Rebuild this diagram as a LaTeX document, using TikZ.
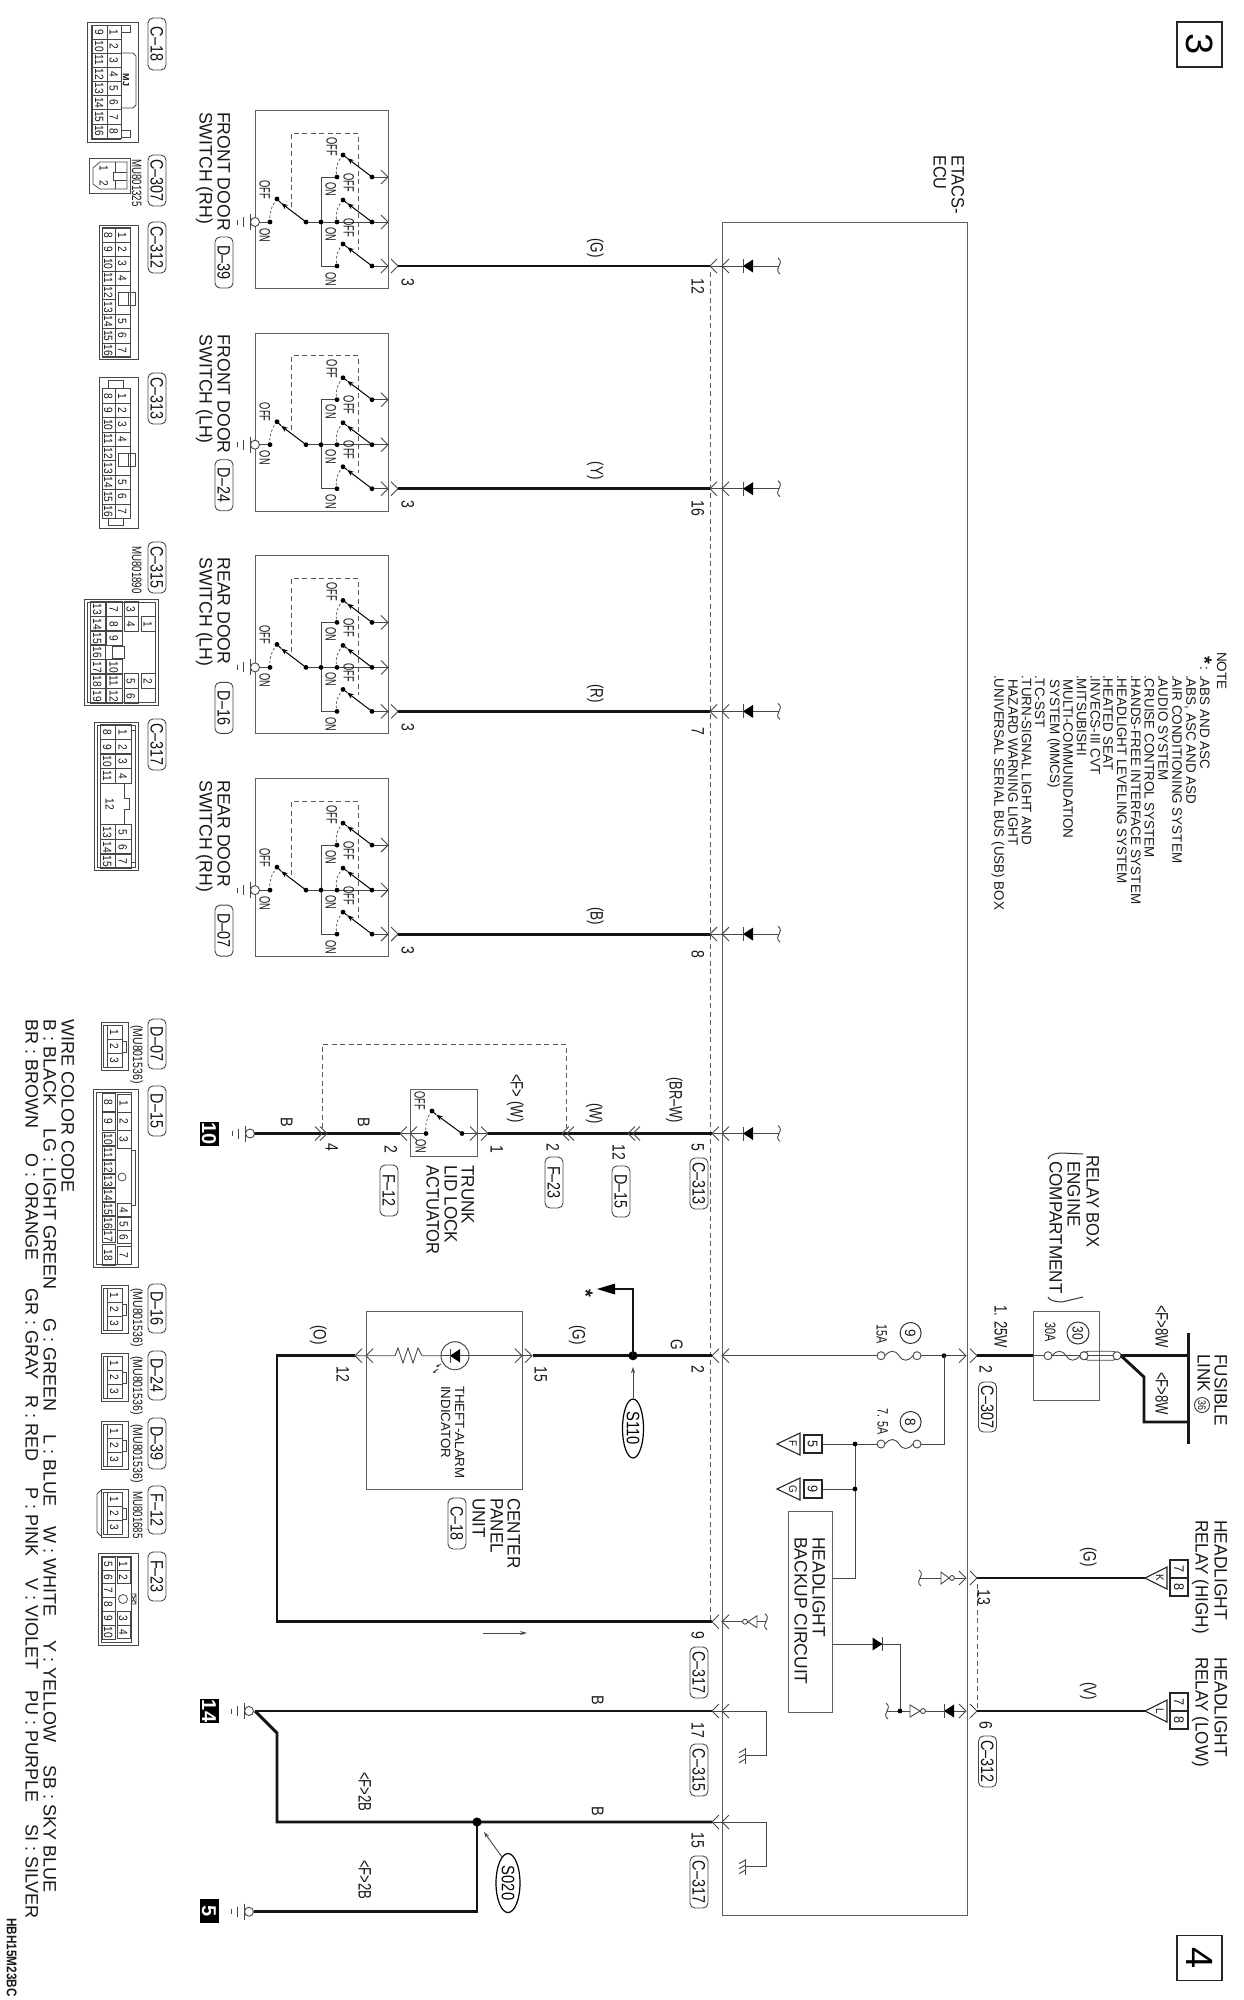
\documentclass[tikz,border=0pt]{standalone}
\usepackage{fontspec}
\setmainfont{Liberation Sans}
\usetikzlibrary{arrows.meta,calc,shapes.geometric}
\newcounter{nn}
\tikzset{
 thinw/.style={line width=.9pt,draw=black!72},
 heavyw/.style={line width=2.9pt,draw=black!92},
 boxl/.style={line width=1pt,draw=black!62},
 connl/.style={line width=.75pt,draw=black!72},
 dashl/.style={line width=.8pt,draw=black!65,dash pattern=on 5pt off 3.5pt},
 boxnode/.style={boxl,rectangle,inner sep=0pt,anchor=north west},
}
\newcommand\Tx[5]{\stepcounter{nn}\node[rotate=-90,anchor=west,inner sep=0pt,text height=#3pt*0.716,text depth=0pt,text=black!90,font=\fontsize{#3}{#3}\selectfont] (t\arabic{nn}) at ({#1},{#2}) {\scalebox{#4}[1]{#5}};}
\newcommand\Cx[5]{\stepcounter{nn}\node[rotate=-90,anchor=center,inner sep=0pt,text height=#3pt*0.716,text depth=0pt,text=black!90,font=\fontsize{#3}{#3}\selectfont] (t\arabic{nn}) at ({#1},{#2}) {\scalebox{#4}[1]{#5}};}
\newcommand\Px[4]{\stepcounter{nn}\node[rotate=-90,draw=black!72,line width=.9pt,rounded corners=5pt,inner sep=0pt,minimum height=18pt,minimum width={#3pt-#2pt},text height=13pt,text depth=0pt,text=black!92,font=\fontsize{18}{18}\selectfont] (p\arabic{nn}) at ({#1},{(#2+#3)/2}) {\scalebox{.8}[1]{#4}};}
\newcommand\Wx[2]{\draw[thinw] ({#1-7},{#2-7}) -- ({#1},{#2}) -- ({#1-7},{#2+7});}% tip right
\newcommand\Vx[2]{\draw[thinw] ({#1+7},{#2-7}) -- ({#1},{#2}) -- ({#1+7},{#2+7});}% tip left
\newcommand\Gx[2]{\draw[thinw,fill=white] (#1,#2) circle (4.5pt);
 \draw[thinw] ({#1-5},{#2-8}) -- ({#1-5},{#2+8}) ({#1-12},{#2-5}) -- ({#1-12},{#2+5}) ({#1-18},{#2-2.5}) -- ({#1-18},{#2+2.5});}
\newcommand\Sq[2]{\draw[thinw] ({#1-1},{#2-8}) .. controls ({#1+3},{#2-5}) and ({#1+1},{#2-2}) .. (#1,#2) .. controls ({#1-1},{#2+2}) and ({#1-3},{#2+5}) .. ({#1+1},{#2+8});}
\newcommand\DL[2]{\fill[black] (#1,#2) -- ({#1+10},{#2-6.5}) -- ({#1+10},{#2+6.5}) -- cycle; \draw[thinw] (#1,{#2-7}) -- (#1,{#2+7});}
\newcommand\DR[2]{\fill[black] (#1,#2) -- ({#1-10},{#2-6.5}) -- ({#1-10},{#2+6.5}) -- cycle; \draw[thinw] (#1,{#2-7}) -- (#1,{#2+7});}
\newcommand\Fu[3]{\draw[thinw] ({#1+4},#3) .. controls ({#1+9},{#3-6}) and ({#1+14},{#3-6}) .. ({(#1+#2)/2},#3) .. controls ({(#1+#2)/2+4},{#3+6}) and ({#2-9},{#3+6}) .. ({#2-4},#3);
 \draw[thinw,fill=white] (#1,#3) circle (4pt) (#2,#3) circle (4pt);}
\newcommand\Dt[2]{\fill[black] (#1,#2) circle (2.4pt);}
\newcommand\Hh[2]{\draw[thinw] (745,{#2-8}) -- (745,{#2+8}); \foreach \k in {-7,-2,3}{\draw[thinw] (746,{#2+\k}) -- (739,{#2+\k+4});}}
\newcommand\Inv[3]{\draw[thinw,fill=white] (#1,{#3-6}) -- (#1,{#3+6}) -- (#2,#3) -- cycle;}
\newcommand\Cel[5]{\draw[connl] (#1,{#3-#4/2}) rectangle (#2,{#3+#4/2}); \Cx{(#1+#2)/2}{#3}{12}{.85}{#5}}
\newcommand\Threepin[1]{\begin{scope}[shift={(0,#1)}]
 \draw[connl] (101,0) rectangle (128,48);
 \draw[connl] (103,3) -- (122,3) -- (122,45) -- (103,45) -- cycle;
 \draw[connl] (107,3) -- (107,45);
 \draw[connl] (122,19) -- (126,19) -- (126,30) -- (122,30);
 \Cel{107}{122}{10}{14}{1}\Cel{107}{122}{24}{14}{2}\Cel{107}{122}{38}{14}{3}
 \end{scope}}
\newcommand\Sixteen[1]{%
 \foreach \i/\n in {0/1,1/2,2/3,3/4,6/5,7/6,8/7}{\Cel{115}{130}{#1+\i*14.4}{14.4}{\n}}
 \foreach \i/\n in {0/8,1/9,2/10,3/11,4/12,5/13,6/14,7/15,8/16}{\Cel{102}{115}{#1+\i*14.4}{14.4}{\n}}
}
\newcommand\Dsw[8]{%
\begin{scope}[shift={(0,#1)}]
 \node[boxnode,minimum width=133pt,minimum height=178pt] (#2box) at (255,0) {};
 \draw[dashl] (291,97) -- (291,23) -- (358,23) -- (358,140);
 \draw[thinw] (337,67) -- (321,67) -- (321,156) -- (337,156);
 \draw[thinw] (255,112) -- (270,112);
 \draw[thinw] (306,112) -- (372,112) ;
 \foreach \dy in {67,112,156}{
  \draw[thinw] (372,\dy) -- (388,\dy);
  \Wx{388}{\dy}
  \draw[line width=1pt,draw=black,-{Stealth[length=7pt,width=5pt]}] (372,\dy) -- (347,\dy-19);
  \draw[line width=1pt,draw=black] (347,\dy-19) -- (343,\dy-22);
  \draw[line width=.7pt,draw=black!70,dash pattern=on 2.5pt off 2pt] (343,\dy-22) .. controls (337,\dy-15) and (335,\dy-8) .. (337,\dy);
  \Dt{372}{\dy}\Dt{343}{\dy-22}\Dt{337}{\dy}
 }
 \draw[line width=1pt,draw=black,-{Stealth[length=7pt,width=5pt]}] (306,112) -- (281,93);
 \draw[line width=1pt,draw=black] (281,93) -- (277,89);
 \draw[line width=.7pt,draw=black!70,dash pattern=on 2.5pt off 2pt] (277,89) .. controls (271,96) and (269,105) .. (270,112);
 \Dt{306}{112}\Dt{321}{112}\Dt{277}{89}\Dt{270}{112}
 \Gx{255}{112}
 \Tx{332}{27}{15}{.62}{OFF}\Tx{349}{63}{15}{.62}{OFF}\Tx{349}{108}{15}{.62}{OFF}
 \Tx{331}{72}{15}{.62}{ON}\Tx{331}{117}{15}{.62}{ON}\Tx{331}{162}{15}{.62}{ON}
 \Tx{265}{70}{15}{.62}{OFF}\Tx{265}{118}{15}{.62}{ON}
 \Px{224}{127}{178}{#3}
 \Tx{224}{2}{18}{.98}{#4}\Tx{206}{2}{18}{.98}{#5}
 \coordinate (#2a) at (398,156);
 \coordinate (#2b) at (710,156);
 \Wx{398}{156}\Vx{710}{156}\Vx{722}{156}
 \draw[heavyw] (#2a) -- (#2b);
 \draw[thinw] (#2b) -- (779,156); \DL{743}{156}\Sq{779}{156}
 \Cx{408}{172}{18}{.78}{3}
 \Cx{698}{176}{18}{.78}{#7}
 \Cx{597}{138}{18}{.75}{#6}
\end{scope}}
\begin{document}
\begin{tikzpicture}[x=1pt,y=-1pt]
\useasboundingbox (0,0) rectangle (1243,2000);
\fill[white] (0,0) rectangle (1243,2000);
% page boxes
\node[draw=black!85,line width=1.5pt,minimum size=45pt,inner sep=0pt,rotate=-90,font=\fontsize{38}{38}\selectfont] (pg3) at (1199.5,44.5) {3};
\node[draw=black!85,line width=1.5pt,minimum size=45pt,inner sep=0pt,rotate=-90,font=\fontsize{38}{38}\selectfont] (pg4) at (1199.5,1958) {4};
% ETACS
\node[boxnode,minimum width=245pt,minimum height=1693pt] (ecu) at (721.5,221.7) {};
\Tx{958}{155}{18}{.91}{ETACS-}\Tx{940}{155}{18}{.91}{ECU}
\draw[dashl] (710,272) -- (710,1620);
\draw[dashl] (977,1584) -- (977,1708);
% door switches
\Dsw{110}{sa}{D–39}{FRONT DOOR}{SWITCH (RH)}{(G)}{12}{}
\Dsw{332.7}{sb}{D–24}{FRONT DOOR}{SWITCH (LH)}{(Y)}{16}{}
\Dsw{555.4}{sc}{D–16}{REAR DOOR}{SWITCH (LH)}{(R)}{7}{}
\Dsw{778.1}{sd}{D–07}{REAR DOOR}{SWITCH (RH)}{(B)}{8}{}
% trunk
\node[boxnode,minimum width=67pt,minimum height=67pt] (tbox) at (410,1089) {};
\draw[dashl] (322,1128) -- (322,1044) -- (566,1044) -- (566,1128);
\coordinate (tg) at (250,1133.5); \coordinate (t2) at (400,1133.5); \coordinate (t1) at (488,1133.5); \coordinate (te) at (712,1133.5);
\draw[heavyw] (tg) -- (t2); \draw[heavyw] (t1) -- (te);
\draw[thinw] (t2) -- (426,1133.5); \draw[thinw] (462,1133.5) -- (t1);
\Vx{400}{1133.5}\Vx{410}{1133.5}\Wx{477}{1133.5}\Wx{488}{1133.5}
\Wx{322}{1133.5}\Wx{327}{1133.5}
\Vx{562}{1133.5}\Vx{567}{1133.5}\Vx{628}{1133.5}\Vx{633}{1133.5}\Vx{712}{1133.5}\Vx{722}{1133.5}
\draw[line width=1pt,-{Stealth[length=7pt,width=5pt]}] (462,1133.5) -- (436,1114.5);
\draw[line width=1pt] (436,1114.5) -- (432,1111);
\draw[line width=.7pt,draw=black!70,dash pattern=on 2.5pt off 2pt] (432,1111) .. controls (426,1118) and (425,1126) .. (426,1133.5);
\Dt{462}{1133.5}\Dt{432}{1111}\Dt{426}{1133.5}
\Gx{250}{1133.5}
\draw[thinw] (712,1133.5) -- (779,1133.5); \DL{743}{1133.5}\Sq{779}{1133.5}
\Tx{420}{1091}{15}{.62}{OFF}\Tx{421}{1139}{15}{.62}{ON}
\Tx{287}{1117}{17}{.85}{B}\Tx{364}{1117}{17}{.85}{B}
\Tx{517}{1074}{18}{.73}{<F> (W)}\Tx{596}{1103}{18}{.72}{(W)}\Tx{676}{1077}{18}{.72}{(BR–W)}
\Cx{332}{1147}{18}{.78}{4}\Cx{391}{1149}{18}{.78}{2}\Cx{497}{1149}{18}{.78}{1}\Cx{553}{1147}{18}{.78}{2}\Cx{619}{1152}{18}{.78}{12}\Cx{698}{1147}{18}{.78}{5}
\Px{554}{1157}{1208}{F–23}\Px{621}{1166}{1217}{D–15}\Px{699}{1158}{1209}{C–313}\Px{389}{1165}{1216}{F–12}
\Tx{468}{1165}{18}{.95}{TRUNK}\Tx{451}{1165}{18}{.95}{LID LOCK}\Tx{433}{1165}{18}{.92}{ACTUATOR}
% centre panel
\node[boxnode,minimum width=156pt,minimum height=178pt] (cpu) at (366,1311) {};
\coordinate (c15) at (533,1355.7); \coordinate (e2) at (712,1355.7); \coordinate (j110) at (633,1355.7);
\coordinate (c12) at (355,1355.7); \coordinate (cc) at (277,1355.7); \coordinate (cd) at (277,1621.7); \coordinate (e9) at (712,1621.7);
\draw[heavyw] (c15) -- (e2);
\draw[heavyw,line join=miter] (c12) -- (cc) -- (cd) -- (e9);
\fill[black] (j110) circle (4.6pt);
\coordinate (ja) at (633,1289); \coordinate (jb) at (612,1289);
\draw[heavyw] (j110) -- (ja) -- (jb);
\fill[black] (615,1283.5) -- (597,1289) -- (615,1294.5) -- cycle;
\Cx{586}{1293}{20}{1}{\bfseries *}
\Wx{522}{1355.7}\Wx{532}{1355.7}\Vx{355}{1355.7}\Vx{366}{1355.7}
\Vx{712}{1355.7}\Vx{722}{1355.7}\Vx{712}{1621.7}\Vx{722}{1621.7}
\draw[thinw] (355,1355.7) -- (395,1355.7) -- (398,1348) -- (403,1363) -- (408,1348) -- (413,1363) -- (418,1348) -- (422,1355.7) -- (441,1355.7);
\draw[thinw] (469,1355.7) -- (532,1355.7);
\draw[line width=1pt,draw=black!70] (455,1355.7) circle (14pt);
\draw[thinw] (441,1355.7) -- (450,1355.7) (460,1355.7) -- (469,1355.7);
\fill[black] (450,1355.7) -- (460,1349) -- (460,1362.5) -- cycle; \draw[thinw] (450,1349) -- (450,1362.5);
\draw[thinw,-{Stealth[length=3pt,width=3pt]}] (441,1364) -- (436,1367);
\draw[thinw,-{Stealth[length=3pt,width=3pt]}] (438,1369) -- (433,1373);
\Tx{460}{1386}{13.3}{1}{THEFT-ALARM}\Tx{446}{1386}{13.3}{1}{INDICATOR}
\Tx{514}{1498}{18}{.95}{CENTER}\Tx{497}{1498}{18}{.95}{PANEL}\Tx{479}{1498}{18}{.95}{UNIT}
\Px{457}{1498}{1549}{C–18}
\Tx{579}{1325}{18}{.75}{(G)}\Tx{677}{1339}{17}{.8}{G}\Tx{320}{1325}{18}{.75}{(O)}
\Cx{698}{1369}{18}{.78}{2}\Cx{343}{1374}{18}{.78}{12}\Cx{541}{1374}{18}{.78}{15}\Cx{698}{1635}{18}{.78}{9}
\Px{699}{1647}{1698}{C–317}
\node[ellipse,draw=black,line width=1.2pt,inner sep=0pt,minimum width=59pt,minimum height=21pt,rotate=-90,font=\fontsize{18}{18}\selectfont] (s110) at (633,1428.5) {\scalebox{.82}[1]{S110}};
\coordinate (s110t) at (633,1367);
\draw[thinw,-{Stealth[length=6pt,width=4pt]}] (s110.west) -- (s110t);
\draw[thinw,-{Stealth[length=7pt,width=4pt]}] (483,1633) -- (527,1633);
% fuse side
\coordinate (f0) at (722,1355.7); \coordinate (n1) at (944,1355.7); \coordinate (r0) at (977,1355.7); \coordinate (r1) at (1032.5,1355.7);
\draw[thinw] (f0) -- (877,1355.7); \draw[thinw] (921,1355.7) -- (966,1355.7);
\Fu{881}{917}{1355.7}
\Dt{944}{1355.7}
\Wx{966}{1355.7}\Wx{977}{1355.7}
\draw[heavyw] (r0) -- (r1);
\node[boxnode,minimum width=66.5pt,minimum height=89pt] (rb) at (1032.5,1311) {};
\draw[thinw] (r1) -- (1117,1355.7);
\Fu{1048}{1084}{1355.7}
\draw[thinw,rounded corners=4pt] (1084,1351.2) rectangle (1117,1360.2);
\draw[thinw,fill=white] (1084,1355.7) circle (4pt) (1117,1355.7) circle (4pt);
\coordinate (bus) at (1188.4,1355.7); \coordinate (bu2) at (1188.4,1422);
\draw[heavyw] (1121,1355.7) -- (bus);
\draw[heavyw,line join=miter] (1121,1355.7) -- (1144,1377) -- (1144,1422) -- (bu2);
\draw[line width=2.2pt,draw=black!90] (1188.4,1333) -- (1188.4,1444);
\draw[line width=1pt,draw=black!80] (1078,1333) circle (11pt); \Cx{1078}{1333}{15}{.8}{30}
\Tx{1050.5}{1322}{15}{.72}{30A}
\draw[line width=1pt,draw=black!80] (910.6,1333) circle (10.5pt); \Cx{910.6}{1333}{15}{.9}{9}
\Tx{882}{1324}{15}{.72}{15A}
\draw[line width=1pt,draw=black!80] (910.6,1422) circle (10.5pt); \Cx{910.6}{1422}{15}{.9}{8}
\Tx{883}{1408}{15}{.72}{7. 5A}
\Tx{1001}{1305}{18}{.73}{1. 25W}\Tx{1162}{1305}{18}{.73}{<F>8W}\Tx{1162}{1372}{18}{.73}{<F>8W}
\Tx{1221}{1354}{18}{.95}{FUSIBLE}\Tx{1204}{1354}{18}{.95}{LINK}
\draw[line width=.9pt,draw=black!80] (1202,1405) circle (7.5pt); \Cx{1202}{1405}{11}{.8}{36}
\Cx{986}{1369}{18}{.78}{2}\Px{987.5}{1382}{1432}{C–307}
% 7.5A
\draw[thinw] (n1) -- (944,1444) -- (921,1444);
\Fu{881}{917}{1444}
\draw[thinw] (877,1444) -- (822,1444);
\draw[thinw] (855,1444) -- (855,1578) -- (832,1578);
\draw[thinw] (855,1489) -- (822,1489);
\Dt{855}{1444}\Dt{855}{1489}
\foreach \yy/\ll/\nn in {1444/F/5,1489/G/9}{
 \draw[line width=1.1pt,draw=black!85] (804,\yy-9) rectangle (822,\yy+9);
 \Cx{813}{\yy}{14}{.9}{\nn}
 \draw[line width=1.1pt,draw=black!85] (777,\yy) -- (800,\yy-11) -- (800,\yy+11) -- cycle;
 \Cx{793}{\yy}{11}{.9}{\ll}
}
\node[boxnode,minimum width=44pt,minimum height=201pt] (hbc) at (788,1511) {};
\Tx{819}{1537}{18}{.97}{HEADLIGHT}\Tx{801}{1537}{18}{.97}{BACKUP CIRCUIT}
\draw[thinw] (832,1644) -- (900,1644) -- (900,1711);
\DR{882.5}{1644}
\draw[thinw] (887,1711) -- (966,1711);
\Sq{887}{1711}\Dt{900}{1711}
\Inv{910}{920}{1711}
\draw[thinw,fill=white] (923,1711) circle (2.5pt);
\DL{944}{1711}
\Wx{966}{1711}\Wx{977}{1711}
\coordinate (hl) at (977,1711); \coordinate (hlt) at (1145,1711);
\draw[heavyw] (hl) -- (hlt);
\coordinate (hh) at (977,1578); \coordinate (hht) at (1145,1578);
\draw[heavyw] (hh) -- (hht);
\draw[thinw] (920,1578) -- (966,1578);
\Sq{920}{1578}
\Inv{941}{949}{1578}
\draw[thinw,fill=white] (952,1578) circle (2.5pt);
\Wx{966}{1578}\Wx{977}{1578}
\foreach \yy/\ll in {1578/K,1711/L}{
 \draw[line width=1.1pt,draw=black!85,fill=white] (1145,\yy) -- (1167,\yy-11) -- (1167,\yy+11) -- cycle;
 \Cx{1160}{\yy}{11}{.9}{\ll}
 \draw[line width=1.1pt,draw=black!85] (1170,\yy-18) rectangle (1188,\yy+18);
 \draw[line width=1.1pt,draw=black!85] (1170,\yy) -- (1188,\yy);
 \Cx{1179}{\yy-9}{14}{.9}{7}\Cx{1179}{\yy+9}{14}{.9}{8}
}
\Tx{1090}{1547}{18}{.75}{(G)}\Tx{1090}{1682}{18}{.75}{(V)}
\Tx{1221}{1520}{18}{.97}{HEADLIGHT}\Tx{1202}{1520}{18}{.95}{RELAY (HIGH)}
\Tx{1221}{1657}{18}{.97}{HEADLIGHT}\Tx{1202}{1657}{18}{.95}{RELAY (LOW)}
\Cx{984}{1597}{18}{.78}{13}\Cx{986}{1725}{18}{.78}{6}\Px{987.5}{1736}{1787}{C–312}
% relay box text
\Tx{1093}{1155}{18}{.92}{RELAY BOX}\Tx{1074}{1161}{18}{.95}{ENGINE}\Tx{1056}{1161}{18}{.95}{COMPARTMENT}
\draw[line width=1pt,draw=black!80] (1048,1159) .. controls (1049,1155) and (1055,1153) .. (1062,1153) -- (1083,1154);
\draw[line width=1pt,draw=black!80] (1048,1297) .. controls (1049,1300) and (1055,1302) .. (1062,1302) -- (1083,1297);
% 9 inverter
\draw[thinw] (722,1621.7) -- (766,1621.7);
\Sq{766}{1621.7}
\Inv{757}{748}{1621.7}
\draw[thinw,fill=white] (745,1621.7) circle (2.5pt);
% grounds
\coordinate (g5) at (254,1911.7); \coordinate (g14) at (255,1711); \coordinate (e17) at (712,1711); \coordinate (e15) at (712,1822);
\coordinate (s020) at (477,1822); \coordinate (bend) at (277,1733); \coordinate (bend2) at (277,1822); \coordinate (bend3) at (477,1911.7);
\draw[heavyw] (g14) -- (e17);
\draw[heavyw,line join=miter] (g14) -- (bend) -- (bend2) -- (e15);
\draw[heavyw,line join=miter] (s020) -- (bend3) -- (g5);
\fill[black] (s020) circle (4.6pt);
\Gx{249}{1711}\Gx{249}{1911.7}
\Vx{712}{1711}\Vx{722}{1711}\Vx{712}{1822}\Vx{722}{1822}
\draw[thinw] (712,1711) -- (766,1711) -- (766,1755.7) -- (745,1755.7); \Hh{745}{1755.7}
\draw[thinw] (712,1822) -- (766,1822) -- (766,1866.7) -- (745,1866.7); \Hh{745}{1866.7}
\node[ellipse,draw=black,line width=1.2pt,inner sep=0pt,minimum width=59pt,minimum height=24pt,rotate=-90,font=\fontsize{18}{18}\selectfont] (s020n) at (508,1883) {\scalebox{.82}[1]{S020}};
\coordinate (s020t) at (484,1832);
\draw[thinw,-{Stealth[length=6pt,width=4pt]}] (502,1857) -- (s020t);
\Tx{365}{1772}{18}{.73}{<F>2B}\Tx{365}{1860}{18}{.73}{<F>2B}
\Tx{598}{1695}{17}{.85}{B}\Tx{598}{1806}{17}{.85}{B}
\Cx{698}{1730}{18}{.78}{17}\Cx{698}{1840}{18}{.78}{15}
\Px{699}{1744}{1796}{C–315}\Px{699}{1856}{1908}{C–317}
\foreach \yy/\ll in {1133.5/10,1711/14,1911/5}{
 \stepcounter{nn}
 \node[fill=black,text=white,rotate=-90,inner sep=0pt,minimum width=24pt,minimum height=19pt,font=\bfseries\fontsize{20}{20}\selectfont] (b\arabic{nn}) at (209,\yy) {\ll};
}
% note
\Tx{1222}{652}{13.5}{1}{NOTE}
\Cx{1205}{660}{20}{1}{\bfseries *}\Cx{1205}{668}{13.5}{1}{:}
\foreach \xx/\ss in {1205/.ABS AND ASC,1191.3/.ABS{,} ASC AND ASD,1177.3/.AIR CONDITIONING SYSTEM,1163.3/.AUDIO SYSTEM,1149.5/.CRUISE CONTROL SYSTEM,1136/.HANDS-FREE INTERFACE SYSTEM,1122/.HEADLIGHT LEVELING SYSTEM,1108.3/.HEATED SEAT,1095.5/.INVECS-III CVT,1081.7/.MITSUBISHI,1040/.TC-SST,1026.7/.TURN-SIGNAL LIGHT AND,999.3/.UNIVERSAL SERIAL BUS (USB) BOX}{
 \Tx{\xx}{675}{13.7}{.98}{\ss}
}
\Tx{1068.3}{679}{13.7}{.98}{MULTI-COMMUNIDATION}
\Tx{1055}{679}{13.7}{.98}{SYSTEM (MMCS)}
\Tx{1013.3}{679}{13.7}{.98}{HAZARD WARNING LIGHT}
% connector views
\Px{157}{18}{70}{C–18}
\draw[connl] (87,22) rectangle (138,142);
\draw[connl] (91,25) -- (91,139) -- (121,139) (91,25) -- (121,25);
\foreach \n in {1,...,8}{\Cel{107}{121}{32+(\n-1)*14.14}{14.14}{\n}}
\foreach \n/\i in {9/0,10/1,11/2,12/3,13/4,14/5,15/6,16/7}{\Cel{92}{107}{32+\i*14.14}{14.14}{\n}}
\draw[connl] (121,53) -- (133,53) -- (136,56) -- (136,105) -- (133,108) -- (121,108);
\draw[connl] (121,25) -- (130,25) -- (130,32) -- (121,32) (121,130) -- (130,130) -- (130,137) -- (121,137);
\Cx{126}{80}{9}{1}{\bfseries MJ}
\Px{157}{155}{206}{C–307}
\Tx{137}{159}{13.5}{.72}{MU801325}
\draw[connl] (89,158) rectangle (130,193);
\draw[connl] (127,162) -- (100,162) -- (93,168) -- (93,184) -- (100,189) -- (127,189) -- cycle;
\draw[connl] (115,162) -- (115,172) -- (113,172) -- (113,180) -- (115,180) -- (115,189) (113,172) -- (127,172) (113,180) -- (127,180);
\Cx{104}{168}{12}{.85}{1}\Cx{104}{183}{12}{.85}{2}
\Px{157}{222}{273}{C–312}
\draw[connl] (99,225) rectangle (138,359);
\draw[connl] (102,228) rectangle (130,356);
\Sixteen{235}
\draw[connl] (118,292) rectangle (128,305) (128,292) -- (135,292) -- (135,305) -- (128,305);
\Px{157}{373}{424}{C–313}
\draw[connl] (99,377) rectangle (138,528);
\draw[connl] (102,388) rectangle (130,518);
\Sixteen{396}
\draw[connl] (118,453) rectangle (128,466) (128,453) -- (135,453) -- (135,466) -- (128,466);
\draw[connl] (108,388) -- (108,380) -- (123,380) -- (123,388) (108,518) -- (108,525) -- (123,525) -- (123,518);
\Px{157}{542}{593}{C–315}
\Tx{137}{546}{13.5}{.72}{MU801890}
\draw[connl] (84,599) rectangle (158,705);
\draw[connl] (87,602) rectangle (155,702);
\foreach \n/\yy in {13/609,14/624,15/638,16/652,17/667,18/681,19/696}{\Cel{90}{105}{\yy}{14.6}{\n}}
\foreach \n/\yy in {7/609,8/624,9/638,10/667,11/681,12/696}{\Cel{106}{122}{\yy}{14.6}{\n}}
\foreach \n/\yy in {3/609,4/624,5/681,6/696}{\Cel{124}{138}{\yy}{14.6}{\n}}
\foreach \n/\yy in {1/624,2/681}{\Cel{141}{155}{\yy}{14.6}{\n}}
\draw[connl] (112,646) rectangle (124,658);
\Px{157}{719}{770}{C–317}
\draw[connl] (94,722) rectangle (138,870);
\draw[connl] (97,725) rectangle (135,867);
\foreach \n/\yy in {1/732,2/747,3/761,4/776,5/832,6/847,7/861}{\Cel{115}{131}{\yy}{14.4}{\n}}
\foreach \n/\yy in {8/732,9/747,10/761,11/776,13/832,14/847,15/861}{\Cel{100}{115}{\yy}{14.4}{\n}}
\Cx{110}{804}{12}{.85}{12}
\draw[connl] (100,783) -- (100,825) (124,783) -- (124,798) (124,809) -- (124,825);
\draw[connl] (124,798) -- (129,798) -- (129,809) -- (124,809);
\draw[connl] (131,725) rectangle (135,730) (131,862) rectangle (135,867);
\Px{157}{1019}{1069}{D–07}
\Threepin{1022}\Tx{138}{1025}{13.5}{.78}{(MU801536)}
\Px{157}{1086}{1136}{D–15}
\draw[connl] (93,1089) rectangle (138,1267);
\draw[connl] (96,1092) rectangle (131,1264);
\foreach \n/\yy/\hh in {1/1103/18,2/1121/18,3/1139/18,4/1210/13.5,5/1224/13.5,6/1237/13.5,7/1255/18}{\Cel{117}{131}{\yy}{\hh}{\n}}
\foreach \n/\yy/\hh in {8/1102/18,9/1121/18,10/1139/13.6,11/1153/13.6,12/1167/13.6,13/1181/13.6,14/1195/13.6,15/1209/13.6,16/1223/13.6,17/1236/13.6,18/1255/21}{\Cel{102}{115}{\yy}{\hh}{\n}}
\draw[connl] (122,1177) circle (4pt);
\draw[connl] (131,1150) -- (135,1150) -- (135,1205) -- (131,1205);
\Px{157}{1284}{1333}{D–16}
\Threepin{1285}\Tx{138}{1288}{13.5}{.78}{(MU801536)}
\Px{157}{1351}{1400}{D–24}
\Threepin{1353}\Tx{138}{1356}{13.5}{.78}{(MU801536)}
\Px{157}{1418}{1469}{D–39}
\Threepin{1421}\Tx{138}{1424}{13.5}{.78}{(MU801536)}
\Px{157}{1486}{1534}{F–12}
\Threepin{1489}\Tx{138}{1491}{13.5}{.72}{MU801685}
\draw[connl] (101,1490) -- (97,1494) -- (97,1532) -- (101,1536);
\Px{157}{1552}{1601}{F–23}
\draw[connl] (98,1553) rectangle (138,1645);
\draw[connl] (101,1556) rectangle (131,1642);
\foreach \n/\yy in {1/1564,2/1577,3/1618.6,4/1632}{\Cel{117}{130}{\yy}{13.5}{\n}}
\foreach \n/\yy in {5/1564,6/1577,7/1590.5,8/1604.5,9/1618.6,10/1632.5}{\Cel{102}{115}{\yy}{13.7}{\n}}
\draw[connl] (123,1599) circle (4.5pt);
\draw[connl] (131,1594) -- (136,1594) -- (136,1604) -- (131,1604) (131,1594) -- (136,1604) (136,1594) -- (131,1604);
% wire colour code
\Tx{68}{1019}{18}{1}{WIRE COLOR CODE}
\foreach \yy/\ss in {1019/B : BLACK,1128/LG : LIGHT GREEN,1318/G : GREEN,1434/L : BLUE,1526/W : WHITE,1640/Y : YELLOW,1765/SB : SKY BLUE}{\Tx{50}{\yy}{18}{1}{\ss}}
\foreach \yy/\ss in {1019/BR : BROWN,1153/O : ORANGE,1288/GR : GRAY,1395/R : RED,1487/P : PINK,1578/V : VIOLET,1690/PU : PURPLE,1824/SI : SILVER}{\Tx{32}{\yy}{18}{1}{\ss}}
\Tx{12}{1918}{14}{.84}{\bfseries HBH15M23BC}
\end{tikzpicture}
\end{document}
